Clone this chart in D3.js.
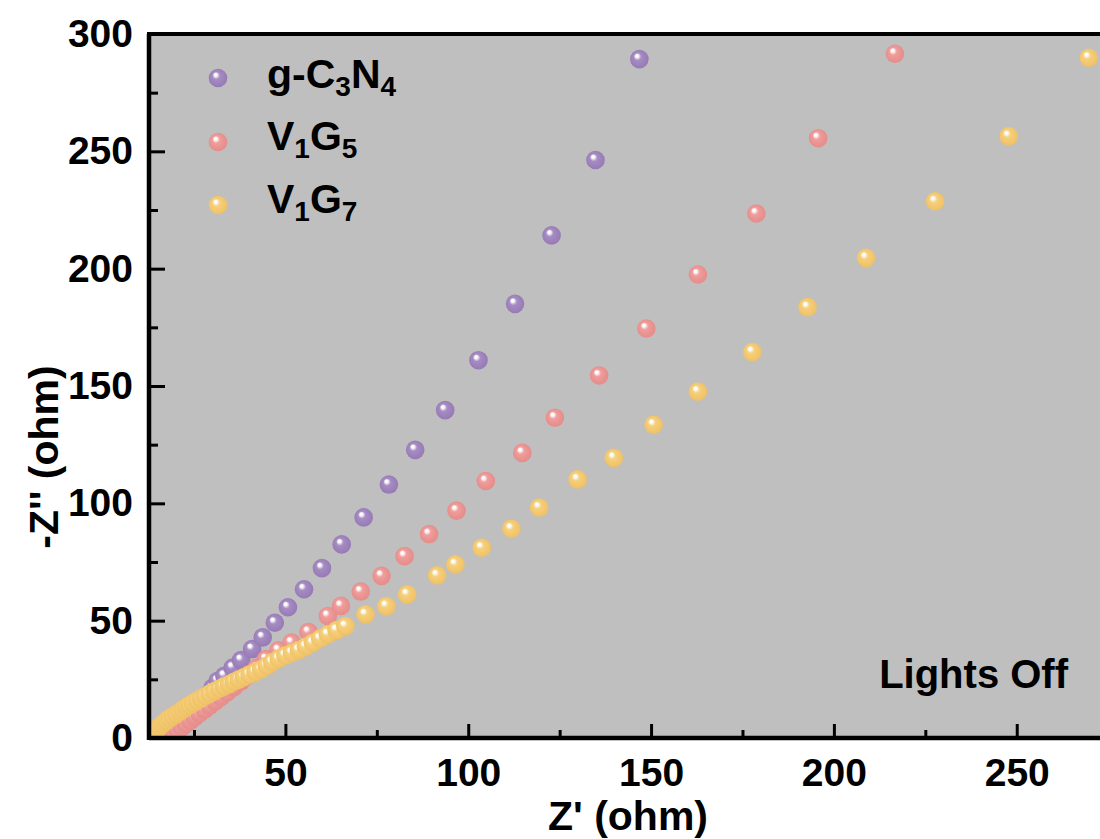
<!DOCTYPE html>
<html>
<head>
<meta charset="utf-8">
<script src="https://cdn.jsdelivr.net/npm/d3@7"></script>
<style>
  html, body { margin: 0; padding: 0; background: #fff; }
  svg { display: block; }
  text { font-family: "Liberation Sans", Arial, sans-serif; font-weight: bold; fill: #000; }
</style>
</head>
<body>
<svg id="chart" width="1100" height="839"></svg>
<script>
// ---- data (Z' , -Z'') ----
const gC3N4_re = [20, 21, 22.1, 23.3, 24.6, 26, 27.4, 28.8, 30.1, 31.5, 33.3, 35.6, 37.9, 40.9, 43.8, 47.1, 50.7, 55.1, 60, 65.4, 71.4, 78.3, 85.5, 93.7, 102.8, 112.8, 122.8, 134.8, 146.8];
const gC3N4_im = [2, 4, 6.1, 8.3, 10.6, 13.1, 15.7, 18.5, 21.4, 24.4, 26.5, 30, 33.2, 37.9, 42.9, 49.1, 55.7, 63.4, 72.4, 82.5, 94, 108, 122.8, 139.7, 161, 185, 214.2, 246.3, 289.3];

const V1G5_re = [18.6, 19.6, 20.6, 21.7, 22.8, 24, 25.2, 26.5, 27.9, 29.3, 30.8, 32.4, 34.1, 35.9, 37.8, 39.8, 42.1, 44.7, 48.1, 51.7, 56.3, 61.6, 65.2, 70.6, 76.3, 82.6, 89.3, 96.8, 104.8, 114.8, 123.7, 135.8, 148.7, 162.8, 178.8, 195.7, 216.7];
const V1G5_im = [0.8, 2, 3.3, 4.6, 6, 7.4, 8.9, 10.5, 12.1, 13.8, 15.6, 17.5, 19.5, 21.7, 24, 26.7, 29.9, 33.6, 37.4, 40.7, 45.2, 52, 56.3, 62.4, 69.1, 77.5, 86.9, 96.9, 109.5, 121.5, 136.5, 154.5, 174.5, 197.5, 223.5, 255.6, 291.6];

const V1G7_re = [13.5, 14, 14.9, 15.6, 16.3, 17, 17.6, 18.4, 19.3, 20.2, 21.1, 22, 22.9, 23.8, 24.8, 25.9, 27, 28.1, 29.3, 30.6, 31.9, 33.2, 34.6, 35.9, 37.3, 38.7, 40.2, 41.8, 43.4, 44.9, 46.4, 48.2, 50, 51.8, 53.7, 55.6, 57.5, 59.5, 61.6, 64, 66.4, 71.9, 77.6, 83.3, 91.5, 96.5, 103.7, 111.8, 119.4, 129.9, 139.8, 150.7, 162.8, 177.7, 192.8, 208.8, 227.7, 247.8, 269.7];
const V1G7_im = [0.5, 1.8, 3.6, 4.8, 5.8, 6.7, 7.5, 8.5, 9.4, 10.3, 11.2, 12.2, 13.2, 14.1, 15, 16, 16.9, 17.9, 18.9, 20, 21, 22, 22.9, 24, 25, 26, 27.1, 28.2, 29.3, 30.8, 32.4, 33.8, 35.2, 36.3, 37.5, 39, 40.6, 42.4, 44.2, 46, 47.7, 52.7, 56.2, 61.2, 69.3, 74, 81.1, 89.2, 98.2, 110.2, 119.4, 133.5, 147.6, 164.5, 183.6, 204.6, 228.7, 256.5, 289.9];

const xTicks = [50, 100, 150, 200, 250];
const xMinor = [25, 75, 125, 175, 225, 275];
const yTicks = [0, 50, 100, 150, 200, 250, 300];
const yMinor = [25, 75, 125, 175, 225, 275];

const seriesNames = ["g-C3N4", "V1G5", "V1G7"];
const seriesColors = ["#a78bc3", "#ef9d9b", "#f6d07c"];
const seriesDark = ["#9478b2", "#e38a88", "#eebf62"];

// ---- layout ----
const svg = d3.select("#chart");
const mLeft = 149, mTop = 34, mBottom = 738, mRight = 1163;
const x = d3.scaleLinear().domain([12.7, 290]).range([mLeft, mRight]);
const y = d3.scaleLinear().domain([0, 300]).range([mBottom, mTop]);

// gradients
const defs = svg.append("defs");
seriesColors.forEach((c, i) => {
  const g = defs.append("radialGradient").attr("id", "ball" + i)
    .attr("cx", "50%").attr("cy", "50%").attr("r", "55%")
    .attr("fx", "35%").attr("fy", "30%");
  g.append("stop").attr("offset", "0%").attr("stop-color", "#ffffff");
  g.append("stop").attr("offset", "14%").attr("stop-color", "#ffffff").attr("stop-opacity", 0.95);
  g.append("stop").attr("offset", "36%").attr("stop-color", c);
  g.append("stop").attr("offset", "100%").attr("stop-color", seriesDark[i]);
});
defs.append("clipPath").attr("id", "plotclip").append("rect")
  .attr("x", mLeft).attr("y", mTop).attr("width", mRight - mLeft).attr("height", mBottom - mTop);

// plot background
svg.append("rect").attr("x", mLeft).attr("y", mTop).attr("width", mRight - mLeft).attr("height", mBottom - mTop)
  .attr("fill", "#bfbfbf");

// points
const data = [
  d3.zip(gC3N4_re, gC3N4_im),
  d3.zip(V1G5_re, V1G5_im),
  d3.zip(V1G7_re, V1G7_im)
];
const plot = svg.append("g").attr("clip-path", "url(#plotclip)");
data.forEach((pts, i) => {
  plot.append("g").selectAll("circle").data(pts).join("circle")
    .attr("cx", d => x(d[0])).attr("cy", d => y(d[1])).attr("r", 9.3)
    .attr("fill", `url(#ball${i})`);
});

// axes
const tickFont = 39;
const axB = d3.axisBottom(x).tickValues(xTicks).tickSize(-14).tickPadding(20).tickFormat(d3.format("d"));
const gB = svg.append("g").attr("transform", `translate(0,${mBottom})`).call(axB);
const axBm = d3.axisBottom(x).tickValues(xMinor).tickSize(-8).tickFormat("");
const gBm = svg.append("g").attr("transform", `translate(0,${mBottom})`).call(axBm);
const axL = d3.axisLeft(y).tickValues(yTicks).tickSize(-16).tickPadding(16).tickFormat(d3.format("d"));
const gL = svg.append("g").attr("transform", `translate(${mLeft},0)`).call(axL);
const axLm = d3.axisLeft(y).tickValues(yMinor).tickSize(-9).tickFormat("");
const gLm = svg.append("g").attr("transform", `translate(${mLeft},0)`).call(axLm);

[gB, gBm, gL, gLm].forEach(g => {
  g.select(".domain").remove();
  g.selectAll(".tick line").attr("stroke", "#000").attr("stroke-width", 3);
});
[gB, gL].forEach(g => g.selectAll(".tick text").attr("font-size", tickFont)
  .attr("font-family", "Liberation Sans, Arial, sans-serif").attr("font-weight", "bold").attr("fill", "#000"));
gL.selectAll(".tick").filter(d => d === 0).select("line").remove();

// frame lines
svg.append("line").attr("x1", mLeft).attr("x2", mRight).attr("y1", mBottom).attr("y2", mBottom)
  .attr("stroke", "#000").attr("stroke-width", 4.5);
svg.append("line").attr("x1", mLeft).attr("x2", mLeft).attr("y1", mTop).attr("y2", mBottom + 2)
  .attr("stroke", "#000").attr("stroke-width", 4.5);
svg.append("line").attr("x1", mLeft - 2).attr("x2", mRight).attr("y1", mTop).attr("y2", mTop)
  .attr("stroke", "#000").attr("stroke-width", 4);

// axis titles
svg.append("text").attr("x", 628).attr("y", 830).attr("text-anchor", "middle")
  .attr("font-size", 41).text("Z' (ohm)");
svg.append("text").attr("transform", "translate(58,457) rotate(-90)").attr("text-anchor", "middle")
  .attr("font-size", 41).text("-Z'' (ohm)");

// annotation
svg.append("text").attr("x", 1068).attr("y", 688).attr("text-anchor", "end")
  .attr("font-size", 40).text("Lights Off");

// legend
const legendRows = [
  { parts: [["g-C", 0], ["3", 1], ["N", 0], ["4", 1]], y: 96 },
  { parts: [["V", 0], ["1", 1], ["G", 0], ["5", 1]], y: 158 },
  { parts: [["V", 0], ["1", 1], ["G", 0], ["7", 1]], y: 221 }
];
const legendBallY = [78, 142, 205];
legendRows.forEach((row, i) => {
  svg.append("circle").attr("cx", 218).attr("cy", legendBallY[i]).attr("r", 9.3).attr("fill", `url(#ball${i})`);
  const t = svg.append("text").attr("x", 267).attr("y", row.y).attr("font-size", 41);
  row.parts.forEach(([s, sub]) => {
    if (sub) t.append("tspan").attr("font-size", 28).attr("dy", 8).text(s);
    else t.append("tspan").attr("font-size", 41).attr("dy", t.selectAll("tspan").size() ? -8 : 0).text(s);
  });
});
</script>
</body>
</html>
